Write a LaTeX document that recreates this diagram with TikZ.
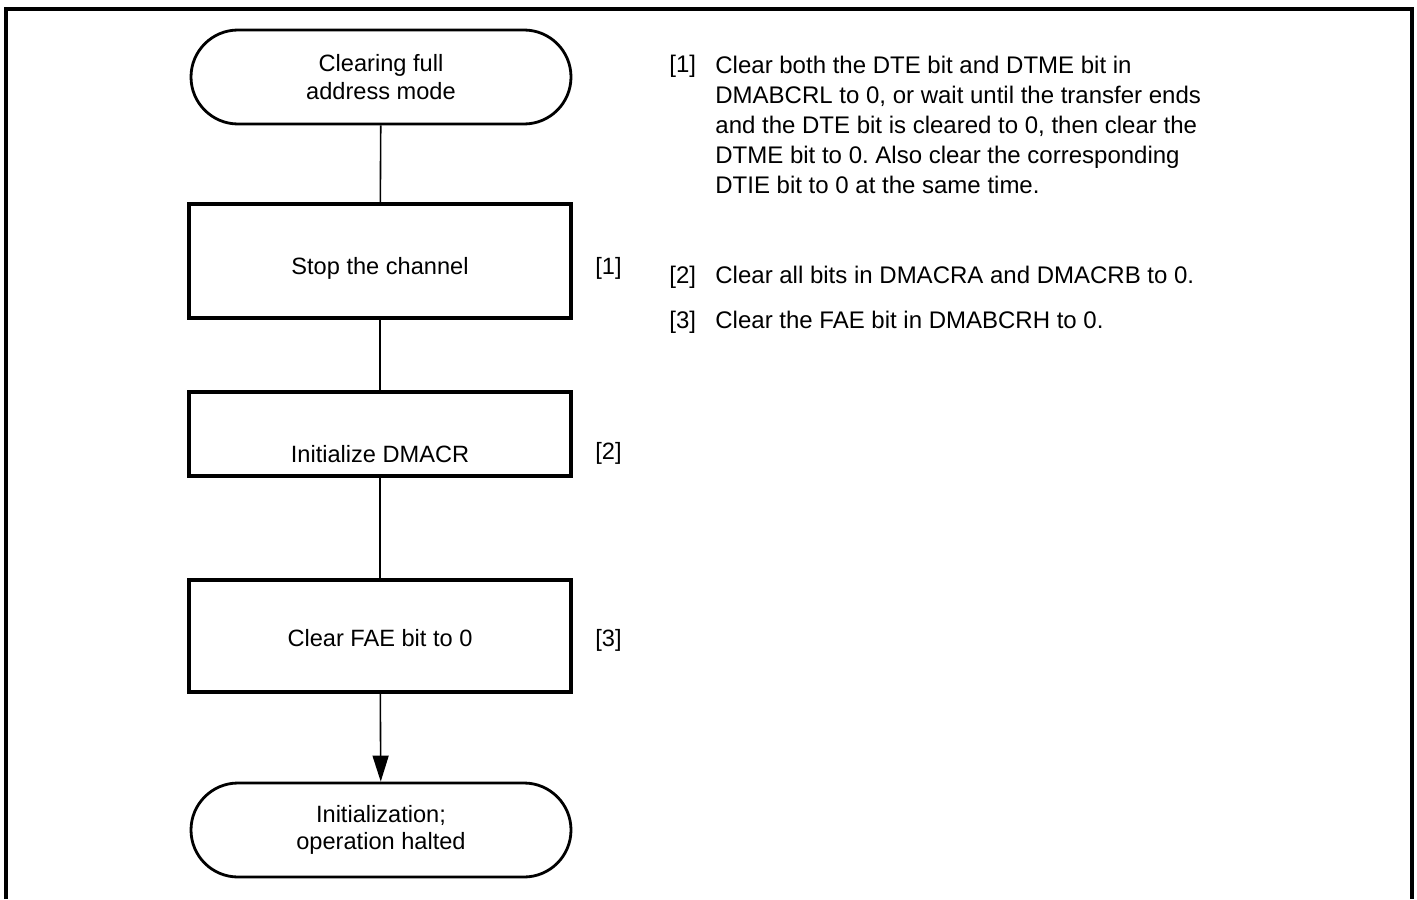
\documentclass[tikz,border=0pt]{standalone}
\usepackage{fontspec}
\setmainfont{Liberation Sans}
\usetikzlibrary{arrows.meta, positioning}
\tikzstyle{term}=[rectangle, rounded corners=23.5pt, draw, line width=1.4pt,
  minimum width=190pt, minimum height=47pt, align=center,
  font=\fontsize{11.8}{13.8}\selectfont]
\tikzstyle{proc}=[rectangle, draw, line width=1.6pt, minimum width=191pt,
  align=center, text depth=2.5pt, font=\fontsize{11.8}{13.8}\selectfont]
\tikzstyle{flow}=[line width=0.8pt]
\tikzstyle{farr}=[-{Triangle[length=13pt, width=8pt]}, line width=0.8pt]
\tikzstyle{tag}=[anchor=west, inner sep=0pt, font=\fontsize{11.8}{13.8}\selectfont]
\tikzstyle{note}=[anchor=base west, inner sep=0pt, align=left,
  font=\fontsize{12}{15}\selectfont]

\begin{document}
\frenchspacing
\begin{tikzpicture}[x=0.5pt, y=-0.5pt]
        \useasboundingbox (0,0) rectangle (1417,899);
        \draw[line width=1.6pt] (6,899) -- (6,9) -- (1412,9) -- (1412,899);

        % flow
        \node[term] (t1) at (381,77) {Clearing full\\address mode};
        \node[proc, minimum height=57pt, text height=15.6pt] (b1) at (380,261) {Stop the channel};
        \node[proc, minimum height=42pt, text height=30.6pt] (b2) at (380,434) {Initialize DMACR};
        \node[proc, minimum height=56pt, text height=12.6pt] (b3) at (380,636) {Clear FAE bit to 0};
        \node[term] (t2) at (381,830) {Initialization;\\operation halted};
        \draw[flow] (t1)--(b1);
        \draw[flow] (b1)--(b2);
        \draw[flow] (b2)--(b3);
        \draw[farr] (b3)--(t2);

        \node[tag] (l1) at (595,268) {[1]};
        \node[tag] (l2) at (595,453) {[2]};
        \node[tag] (l3) at (595,640) {[3]};

        % notes (base = last line)
        \node[note] (n1) at (669,73) {[1]};
        \node[note] (m1) at (715,193) {Clear both the DTE bit and DTME bit in\\
          DMABCRL to 0, or wait until the transfer ends\\
          and the DTE bit is cleared to 0, then clear the\\
          DTME bit to 0. Also clear the corresponding\\
          DTIE bit to 0 at the same time.};
        \node[note] (n2) at (669,283) {[2]};
        \node[note] (m2) at (715,283) {Clear all bits in DMACRA and DMACRB to 0.};
        \node[note] (n3) at (669,328) {[3]};
        \node[note] (m3) at (715,328) {Clear the FAE bit in DMABCRH to 0.};
      \end{tikzpicture}
\end{document}
